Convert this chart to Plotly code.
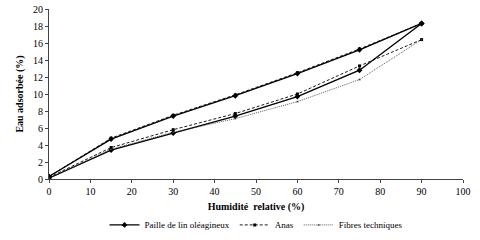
import plotly.graph_objects as go

x_ads = [0, 15, 30, 45, 60, 75, 90]
x_des = [90, 75, 60, 45, 30, 15, 0]

paille_ads = [0.1, 3.4, 5.4, 7.4, 9.7, 12.8, 18.3]
paille_des = [18.3, 15.2, 12.4, 9.8, 7.4, 4.7, 0.3]
anas_ads = [0.2, 3.7, 5.8, 7.7, 10.0, 13.3, 16.4]
anas_des = [18.3, 15.3, 12.5, 9.9, 7.5, 4.8, 0.3]
fibres_ads = [0.1, 3.5, 5.5, 7.1, 9.1, 11.7, 16.4]

series_names = ["Paille de lin oléagineux", "Anas", "Fibres techniques"]
x_ticks = list(range(0, 101, 10))
y_ticks = list(range(0, 21, 2))

font = "Liberation Serif"

def joined(xa, ya, xd=None, yd=None):
    if xd is None:
        return xa, ya
    return xa + [None] + xd, ya + [None] + yd

fig = go.Figure()
px, py = joined(x_ads, paille_ads, x_des, paille_des)
fig.add_trace(go.Scatter(x=px, y=py, name=series_names[0], mode="lines+markers",
                         line=dict(color="black", width=1.4),
                         marker=dict(symbol="diamond", size=4.5, color="black"),
                         connectgaps=False))
ax, ay = joined(x_ads, anas_ads, x_des, anas_des)
fig.add_trace(go.Scatter(x=ax, y=ay, name=series_names[1], mode="lines+markers",
                         line=dict(color="black", width=0.9, dash="3px,2px"),
                         marker=dict(symbol="square", size=3, color="black"),
                         connectgaps=False))
fx, fy = joined(x_ads, fibres_ads)
fig.add_trace(go.Scatter(x=fx, y=fy, name=series_names[2], mode="lines+markers",
                         line=dict(color="#333333", width=0.8, dash="1px,1px"),
                         marker=dict(symbol="triangle-up", size=2.5, color="#333333")))

fig.update_layout(
    width=480, height=240,
    margin=dict(l=49, r=17, t=9, b=61, autoexpand=False),
    paper_bgcolor="white", plot_bgcolor="white",
    font=dict(family=font, size=10, color="black"),
    showlegend=True,
    legend=dict(orientation="h", x=0.5, xanchor="center", y=-0.27, yanchor="middle",
                font=dict(family=font, size=9), itemwidth=30, tracegroupgap=0,
                bgcolor="rgba(0,0,0,0)"),
    xaxis=dict(range=[0, 100], tickmode="array", tickvals=x_ticks, automargin=False,
               showgrid=False, zeroline=False, showline=True, linecolor="#444444",
               linewidth=1, ticks="outside", ticklen=3, tickcolor="#444444",
               tickfont=dict(family=font, size=10),
               title=dict(text="<b>Humidité  relative (%)</b>", font=dict(family=font, size=10), standoff=6)),
    yaxis=dict(range=[0, 20], tickmode="array", tickvals=y_ticks, automargin=False,
               showgrid=False, zeroline=False, showline=True, linecolor="#444444",
               linewidth=1, ticks="outside", ticklen=3, tickcolor="#444444",
               tickfont=dict(family=font, size=10),
               title=dict(text="<b>Eau adsorbée (%)</b>", font=dict(family=font, size=10), standoff=7)),
)

fig.write_html("out.html", config={"displayModeBar": False},
               post_script="document.body.style.margin='0';")
